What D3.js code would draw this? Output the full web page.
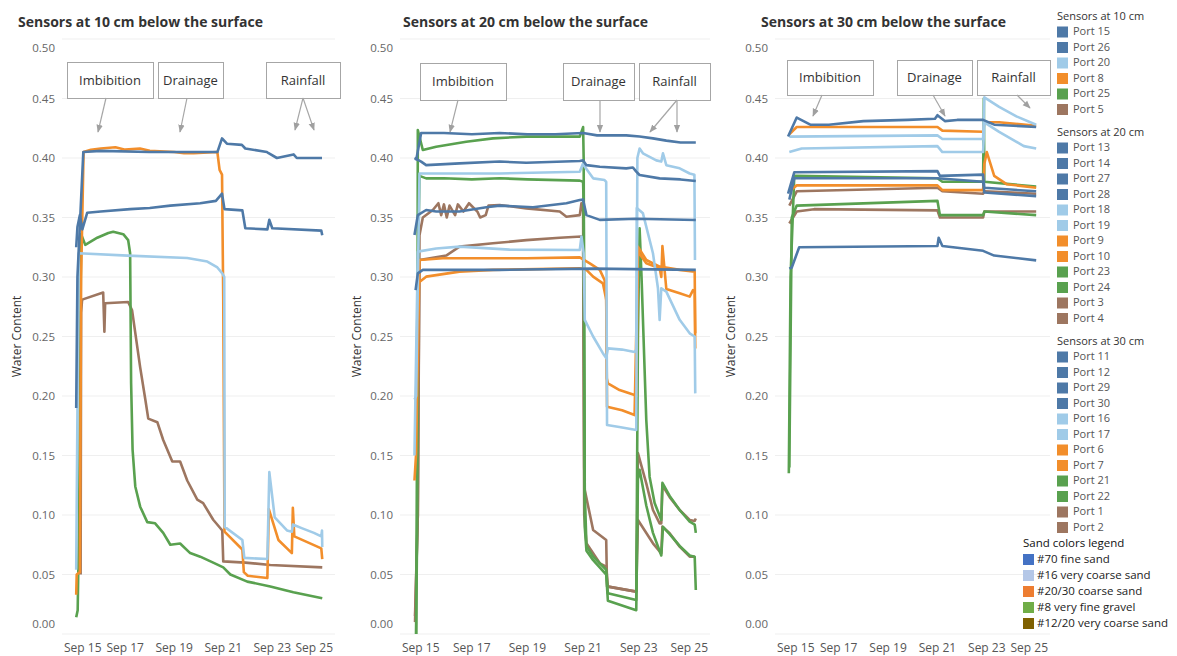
<!DOCTYPE html>
<html lang="en">
<head>
<meta charset="UTF-8">
<title>Water content by sensor depth</title>
<script src="https://d3js.org/d3.v7.min.js"></script>
<style>
  body { margin: 0; background: #fff; font-family: "Open Sans", Arial, sans-serif; }
  svg { display: block; }
</style>
</head>
<body>
<svg id="chart" width="1177" height="656"></svg>
<script>
// ---- data (day of September, water content) ----
const dayTicks = [15, 17, 19, 21, 23, 25];
const waterTicks = [0, 0.05, 0.10, 0.15, 0.20, 0.25, 0.30, 0.35, 0.40, 0.45, 0.50];

// 10 cm
const port15 = [[15.0,0.190],[15.05,0.30],[15.29,0.405],[16,0.406],[18,0.405],[20,0.405],[20.76,0.405],[20.95,0.4165],[21.15,0.412],[21.76,0.411],[21.9,0.408],[22.78,0.405],[22.85,0.404],[23.19,0.400],[23.87,0.403],[24.0,0.400],[25.03,0.400]];
const port26 = [[15.0,0.325],[15.05,0.342],[15.15,0.352],[15.25,0.340],[15.45,0.354],[16,0.355],[17.2,0.357],[18.0,0.358],[18.84,0.360],[20.06,0.362],[20.7,0.364],[20.95,0.370],[21.05,0.357],[21.78,0.356],[21.9,0.341],[22.8,0.340],[22.88,0.348],[23.0,0.341],[25.0,0.339],[25.04,0.335]];
const port20 = [[15.0,0.054],[15.1,0.320],[17.1,0.318],[19.53,0.316],[20.35,0.313],[20.76,0.308],[20.96,0.303],[21.04,0.300],[21.06,0.090],[21.78,0.079],[21.86,0.064],[22.8,0.063],[22.88,0.136],[23.1,0.098],[23.6,0.087],[23.8,0.086],[23.84,0.092],[24.2,0.089],[24.7,0.085],[25.0,0.082],[25.03,0.087],[25.04,0.073]];
const port8 = [[15.0,0.033],[15.02,0.050],[15.15,0.052],[15.2,0.300],[15.3,0.405],[15.6,0.407],[16.0,0.408],[16.6,0.409],[17.0,0.407],[17.6,0.408],[18.0,0.406],[19.0,0.405],[19.4,0.404],[19.8,0.404],[20.76,0.405],[20.85,0.390],[20.95,0.386],[21.0,0.280],[21.05,0.086],[21.78,0.071],[21.84,0.052],[22.0,0.049],[22.8,0.047],[22.86,0.105],[23.25,0.079],[23.8,0.068],[23.84,0.106],[23.9,0.082],[25.0,0.072],[25.04,0.063]];
const port25 = [[15.0,0.014],[15.06,0.020],[15.12,0.10],[15.2,0.336],[15.37,0.327],[15.86,0.333],[16.31,0.337],[16.51,0.338],[16.92,0.336],[17.12,0.331],[17.2,0.320],[17.24,0.211],[17.3,0.155],[17.41,0.124],[17.61,0.107],[17.9,0.094],[18.22,0.093],[18.55,0.085],[18.84,0.075],[19.24,0.076],[19.65,0.068],[20.06,0.065],[20.59,0.060],[21.0,0.056],[21.29,0.050],[21.98,0.044],[22.92,0.040],[23.86,0.035],[25.04,0.030]];
const port5 = [[15.18,0.05],[15.2,0.27],[15.24,0.281],[16.1,0.287],[16.15,0.254],[16.18,0.278],[17.12,0.279],[17.28,0.272],[17.61,0.224],[17.82,0.197],[17.94,0.181],[18.31,0.178],[18.55,0.163],[18.92,0.145],[19.24,0.145],[19.53,0.129],[19.94,0.113],[20.18,0.110],[20.59,0.096],[20.96,0.087],[21.0,0.061],[21.9,0.060],[22.92,0.058],[25.04,0.056]];

// 20 cm
const port13 = [[15.0,0.398],[15.18,0.421],[16,0.421],[17,0.420],[18,0.421],[19,0.420],[20,0.420],[21,0.421],[21.5,0.419],[22.55,0.419],[23.03,0.418],[23.51,0.4165],[23.99,0.4146],[24.5,0.413],[25.05,0.413]];
const port14 = [[14.94,0.400],[15.18,0.397],[15.36,0.394],[16.56,0.3955],[18.0,0.397],[18.96,0.396],[20.88,0.3975],[21.0,0.398],[21.12,0.394],[21.6,0.3927],[22.55,0.3913],[22.79,0.392],[22.91,0.3885],[23.03,0.3857],[23.75,0.3829],[24.5,0.382],[25.05,0.3807]];
const port27 = [[14.98,0.289],[15.06,0.303],[15.24,0.306],[18.0,0.306],[21.36,0.307],[25.05,0.306]];
const port28 = [[14.94,0.3353],[15.06,0.352],[15.36,0.3563],[15.72,0.355],[16.56,0.355],[17.52,0.3586],[18.0,0.360],[19.2,0.3586],[20.4,0.362],[20.88,0.3647],[21.0,0.365],[21.12,0.352],[21.6,0.348],[22.91,0.349],[25.05,0.3479]];
const port18 = [[14.94,0.197],[15.0,0.200],[15.12,0.387],[18.0,0.387],[20.88,0.3885],[20.99,0.395],[21.36,0.3829],[21.77,0.3815],[21.83,0.380],[21.86,0.1756],[22.3,0.174],[22.91,0.1714],[22.95,0.400],[23.03,0.408],[23.15,0.4039],[23.63,0.398],[23.81,0.397],[23.87,0.4039],[23.99,0.394],[24.47,0.3913],[24.83,0.387],[25.0,0.386],[25.02,0.3143]];
const port19 = [[14.94,0.150],[15.06,0.3213],[15.72,0.324],[16.56,0.3255],[18.36,0.323],[20.88,0.3227],[20.94,0.334],[21.02,0.320],[21.06,0.264],[21.36,0.250],[21.71,0.236],[21.83,0.232],[21.89,0.240],[22.4,0.239],[22.85,0.237],[22.91,0.2387],[22.93,0.358],[23.15,0.3535],[23.51,0.320],[23.69,0.2905],[23.75,0.264],[23.81,0.2905],[23.99,0.2877],[24.47,0.264],[24.83,0.2527],[25.01,0.250],[25.03,0.2022]];
const port9 = [[14.94,0.129],[15.0,0.152],[15.12,0.3143],[15.96,0.3157],[18.96,0.3157],[20.88,0.3165],[21.24,0.3115],[21.6,0.306],[21.77,0.2975],[21.83,0.2863],[21.85,0.215],[21.89,0.2106],[22.31,0.205],[22.85,0.2008],[22.91,0.200],[22.97,0.3255],[23.27,0.3143],[23.75,0.3087],[24.47,0.306],[25.01,0.3045],[25.03,0.2527]];
const port10 = [[15.06,0.2947],[15.36,0.3003],[16.56,0.3045],[17.76,0.306],[20.88,0.3073],[21.12,0.306],[21.36,0.3003],[21.71,0.2947],[21.81,0.2835],[21.83,0.2807],[21.86,0.191],[22.4,0.188],[22.85,0.184],[22.97,0.3213],[23.27,0.3115],[23.75,0.3073],[23.81,0.300],[23.85,0.326],[23.99,0.290],[24.47,0.2863],[24.83,0.2835],[24.95,0.289],[25.01,0.288],[25.03,0.240]];
const port23 = [[15.0,0.0],[15.04,0.10],[15.06,0.4235],[15.24,0.4067],[15.72,0.4095],[16.8,0.4137],[17.76,0.4165],[18.96,0.418],[20.88,0.418],[21.0,0.426],[21.02,0.400],[21.06,0.120],[21.12,0.074],[21.36,0.065],[21.83,0.054],[21.89,0.0342],[22.91,0.0286],[22.97,0.250],[23.03,0.341],[23.1,0.300],[23.21,0.222],[23.27,0.180],[23.39,0.132],[23.57,0.110],[23.81,0.0958],[23.85,0.127],[24.11,0.116],[24.47,0.1042],[24.83,0.0944],[25.01,0.092],[25.05,0.085]];
const port24 = [[15.0,0.0],[15.06,0.300],[15.12,0.385],[15.36,0.3829],[16,0.383],[17,0.382],[18,0.383],[19,0.382],[20.88,0.381],[21.0,0.380],[21.02,0.360],[21.06,0.090],[21.12,0.070],[21.36,0.062],[21.83,0.050],[21.89,0.028],[22.91,0.020],[22.97,0.130],[23.03,0.138],[23.27,0.108],[23.51,0.085],[23.81,0.066],[23.87,0.090],[24.11,0.084],[24.47,0.074],[24.83,0.066],[25.01,0.065],[25.05,0.037]];
const port3 = [[14.96,0.010],[15.06,0.100],[15.12,0.335],[15.24,0.350],[15.6,0.3563],[15.8,0.362],[15.9,0.352],[16.0,0.361],[16.1,0.350],[16.2,0.360],[16.4,0.352],[16.5,0.361],[16.7,0.355],[16.9,0.362],[17.2,0.355],[17.3,0.350],[17.5,0.352],[17.6,0.360],[18.0,0.3605],[18.96,0.3577],[20.16,0.355],[20.4,0.3507],[20.88,0.352],[20.94,0.362],[21.0,0.355],[21.04,0.140],[21.06,0.121],[21.36,0.0874],[21.83,0.079],[21.86,0.040],[22.91,0.0356],[22.97,0.152],[23.27,0.1266],[23.51,0.1042],[23.75,0.093],[23.81,0.093],[23.85,0.125],[24.11,0.115],[24.47,0.1042],[24.83,0.0958],[25.01,0.095],[25.05,0.097]];
const port4 = [[14.96,0.015],[15.06,0.100],[15.12,0.3143],[16.08,0.318],[16.56,0.3255],[17.76,0.3283],[18.96,0.331],[20.16,0.333],[20.94,0.334],[21.0,0.333],[21.04,0.100],[21.12,0.0762],[21.6,0.0594],[21.83,0.0566],[21.89,0.0398],[22.91,0.0356],[22.97,0.0958],[23.51,0.0762],[23.81,0.0678],[23.85,0.0902],[24.11,0.0846],[24.47,0.0734],[24.83,0.065],[25.01,0.065]];

// 30 cm
const port11 = [[14.95,0.418],[15.3,0.434],[15.85,0.428],[16.6,0.428],[18.0,0.431],[19.8,0.432],[20.9,0.433],[21.0,0.436],[21.3,0.431],[21.8,0.432],[22.85,0.432],[23.3,0.428],[25.0,0.426]];
const port12 = [[14.95,0.370],[15.2,0.388],[21.0,0.389],[21.1,0.385],[22.85,0.386],[22.9,0.375],[25.0,0.372]];
const port29 = [[15.0,0.365],[15.2,0.383],[21.0,0.383],[22.85,0.380],[22.9,0.371],[25.0,0.368]];
const port30 = [[15.0,0.307],[15.1,0.308],[15.4,0.325],[21.0,0.326],[21.05,0.333],[21.2,0.326],[22.85,0.322],[23.3,0.318],[25.0,0.314]];
const port16 = [[15.0,0.418],[21.0,0.419],[21.2,0.416],[22.85,0.416],[22.9,0.451],[23.5,0.443],[24.2,0.435],[25.0,0.428]];
const port17 = [[15.0,0.405],[15.5,0.408],[21.0,0.410],[21.2,0.405],[22.85,0.405],[22.9,0.430],[23.5,0.422],[24.5,0.410],[25.0,0.408]];
const port6 = [[15.0,0.420],[15.3,0.426],[21.0,0.426],[21.2,0.423],[22.85,0.422],[22.9,0.430],[23.5,0.430],[25.0,0.427]];
const port7 = [[15.0,0.372],[15.3,0.377],[21.0,0.377],[21.2,0.373],[22.85,0.373],[22.9,0.395],[23.0,0.405],[23.3,0.385],[23.8,0.378],[25.0,0.375]];
const port21 = [[14.98,0.135],[15.05,0.300],[15.2,0.385],[21.0,0.383],[21.2,0.380],[22.85,0.380],[22.88,0.450],[22.9,0.380],[25.0,0.376]];
const port22 = [[15.0,0.140],[15.1,0.350],[15.3,0.360],[21.0,0.364],[21.1,0.352],[22.85,0.352],[22.9,0.355],[25.0,0.352]];
const port1 = [[15.0,0.360],[15.3,0.372],[21.0,0.375],[21.2,0.372],[22.85,0.370],[22.9,0.372],[25.0,0.370]];
const port2 = [[15.0,0.345],[15.3,0.355],[16.0,0.357],[21.0,0.356],[21.1,0.350],[22.85,0.350],[22.9,0.355],[25.0,0.355]];

const sandNames = ["#70 fine sand", "#16 very coarse sand", "#20/30 coarse sand", "#8 very fine gravel", "#12/20 very coarse sand"];
const sandColors = ["#4472c4", "#b4c7e7", "#ed7d31", "#70ad47", "#7f6000"];

// ---- layout ----
const C = { blue: "#4e79a7", light: "#a0cbe8", orange: "#f28e2b", green: "#59a14f", brown: "#9d7660" };
const yTop = 39, yBottom = 634;

const panels = [
  {
    title: "Sensors at 10 cm below the surface", titleX: 18, axisTitleX: 17, x0: 62, x1: 335,
    series: [["Port 15", C.blue, port15], ["Port 26", C.blue, port26], ["Port 20", C.light, port20],
             ["Port 8", C.orange, port8], ["Port 25", C.green, port25], ["Port 5", C.brown, port5]],
    boxes: [["Imbibition", 67, 62, 86, 36], ["Drainage", 158, 62, 65, 36], ["Rainfall", 266, 62, 74, 36]],
    arrows: [[106, 98, 98, 132], [187, 98, 180, 132], [303, 98, 295, 130], [303, 98, 314, 130]]
  },
  {
    title: "Sensors at 20 cm below the surface", titleX: 403, axisTitleX: 357, x0: 400, x1: 710,
    series: [["Port 13", C.blue, port13], ["Port 14", C.blue, port14], ["Port 27", C.blue, port27], ["Port 28", C.blue, port28],
             ["Port 18", C.light, port18], ["Port 19", C.light, port19], ["Port 9", C.orange, port9], ["Port 10", C.orange, port10],
             ["Port 23", C.green, port23], ["Port 24", C.green, port24], ["Port 3", C.brown, port3], ["Port 4", C.brown, port4]],
    boxes: [["Imbibition", 420, 63, 86, 37], ["Drainage", 563, 63, 71, 37], ["Rainfall", 639, 63, 71, 37]],
    arrows: [[458, 100, 450, 132], [600, 100, 600, 132], [677, 100, 650, 132], [677, 100, 677, 132]]
  },
  {
    title: "Sensors at 30 cm below the surface", titleX: 761, axisTitleX: 731, x0: 775, x1: 1050,
    series: [["Port 11", C.blue, port11], ["Port 12", C.blue, port12], ["Port 29", C.blue, port29], ["Port 30", C.blue, port30],
             ["Port 16", C.light, port16], ["Port 17", C.light, port17], ["Port 6", C.orange, port6], ["Port 7", C.orange, port7],
             ["Port 21", C.green, port21], ["Port 22", C.green, port22], ["Port 1", C.brown, port1], ["Port 2", C.brown, port2]],
    boxes: [["Imbibition", 787, 60, 86, 35], ["Drainage", 897, 60, 75, 35], ["Rainfall", 977, 60, 73, 35]],
    arrows: [[822, 95, 813, 116], [933, 95, 945, 116], [1017, 95, 1030, 108]]
  }
];

const svg = d3.select("#chart");

svg.append("defs").append("marker")
  .attr("id", "arrow").attr("viewBox", "0 0 10 10")
  .attr("refX", 9).attr("refY", 5)
  .attr("markerWidth", 8).attr("markerHeight", 8)
  .attr("markerUnits", "userSpaceOnUse")
  .attr("orient", "auto")
  .append("path").attr("d", "M0,1 L10,5 L0,9 z").attr("fill", "#a0a0a0");

const yScale = d3.scaleLinear().domain([0, 0.5]).range([yBottom, yTop]);

panels.forEach((p, i) => {
  const x = d3.scaleLinear().domain([14.42, 25.56]).range([p.x0, p.x1]);
  const g = svg.append("g");

  // gridlines
  g.selectAll(".grid").data(waterTicks).enter().append("line")
    .attr("x1", p.x0).attr("x2", p.x1)
    .attr("y1", d => yScale(d)).attr("y2", d => yScale(d))
    .attr("stroke", "#efefef").attr("stroke-width", 1);

  // y tick labels (edge labels pulled inside like Tableau)
  g.selectAll(".ylab").data(waterTicks).enter().append("text")
    .attr("x", p.x0 - 7)
    .attr("y", d => yScale(d) + (d === 0.5 ? 9 : d === 0 ? -10 : 0))
    .attr("dy", "0.35em")
    .attr("text-anchor", "end")
    .attr("font-size", 11.5).attr("fill", "#666")
    .text(d3.format(".2f"));

  // x tick labels
  g.selectAll(".xlab").data(dayTicks).enter().append("text")
    .attr("x", d => x(d)).attr("y", 652)
    .attr("text-anchor", "middle")
    .attr("font-size", 12).attr("fill", "#555")
    .text(d => "Sep " + d)
    .each(function () {
      const t = d3.select(this), w = this.getComputedTextLength(), cx = +t.attr("x");
      if (cx - w / 2 < p.x0 + 2) t.attr("x", p.x0 + 2 + w / 2);
      if (cx + w / 2 > p.x1 - 2) t.attr("x", p.x1 - 2 - w / 2);
    });

  // titles
  svg.append("text").attr("x", p.titleX).attr("y", 27)
    .attr("font-size", 14).attr("font-weight", 700).attr("fill", "#333")
    .text(p.title);
  svg.append("text")
    .attr("transform", `translate(${p.axisTitleX + 4},${(yTop + yBottom) / 2}) rotate(-90)`)
    .attr("text-anchor", "middle").attr("font-size", 12).attr("fill", "#333")
    .text("Water Content");

  // lines
  g.append("clipPath").attr("id", "clip" + i).append("rect")
    .attr("x", p.x0).attr("y", yTop - 5).attr("width", p.x1 - p.x0).attr("height", yBottom - yTop + 5);
  const line = d3.line().x(d => x(d[0])).y(d => yScale(d[1]));
  g.append("g").attr("clip-path", `url(#clip${i})`)
    .selectAll("path").data(p.series.slice().reverse()).enter().append("path")
    .attr("d", d => line(d[2]))
    .attr("fill", "none").attr("stroke", d => d[1])
    .attr("stroke-width", 2.6).attr("stroke-linejoin", "round");

  // annotations
  const notes = svg.append("g");
  notes.selectAll("rect").data(p.boxes).enter().append("rect")
    .attr("x", d => d[1] + 0.5).attr("y", d => d[2] + 0.5)
    .attr("width", d => d[3]).attr("height", d => d[4])
    .attr("fill", "#fff").attr("stroke", "#a6a6a6");
  notes.selectAll("text").data(p.boxes).enter().append("text")
    .attr("x", d => d[1] + d[3] / 2).attr("y", d => d[2] + d[4] / 2)
    .attr("dy", "0.35em").attr("text-anchor", "middle")
    .attr("font-size", 13).attr("fill", "#333")
    .text(d => d[0]);
  notes.selectAll("line").data(p.arrows).enter().append("line")
    .attr("x1", d => d[0]).attr("y1", d => d[1]).attr("x2", d => d[2]).attr("y2", d => d[3])
    .attr("stroke", "#a6a6a6").attr("stroke-width", 1.2)
    .attr("marker-end", "url(#arrow)");
});

// ---- legend ----
const legend = svg.append("g").attr("font-size", 11);
const legendGroups = [["Sensors at 10 cm", panels[0].series, 16], ["Sensors at 20 cm", panels[1].series, 132], ["Sensors at 30 cm", panels[2].series, 341]];
legendGroups.forEach(([title, items, y0]) => {
  legend.append("text").attr("x", 1057).attr("y", y0).attr("dy", "0.35em")
    .attr("fill", "#333").text(title);
  const rows = legend.selectAll(null).data(items).enter().append("g")
    .attr("transform", (d, k) => `translate(1057,${y0 + 15.5 * (k + 1)})`);
  rows.append("rect").attr("x", 0).attr("y", -5).attr("width", 11).attr("height", 11).attr("fill", d => d[1]);
  rows.append("text").attr("x", 16).attr("dy", "0.35em").attr("fill", "#555").text(d => d[0]);
});
legend.append("text").attr("x", 1023).attr("y", 543).attr("dy", "0.35em")
  .attr("font-size", 11.5).attr("fill", "#111").text("Sand colors legend");
const sandRows = legend.selectAll(null).data(sandNames).enter().append("g")
  .attr("transform", (d, k) => `translate(1023,${559 + 16 * k})`);
sandRows.append("rect").attr("x", 0).attr("y", -5).attr("width", 11).attr("height", 11).attr("fill", (d, k) => sandColors[k]);
sandRows.append("text").attr("x", 14).attr("dy", "0.35em").attr("font-size", 11.5).attr("fill", "#222").text(d => d);
</script>
</body>
</html>
